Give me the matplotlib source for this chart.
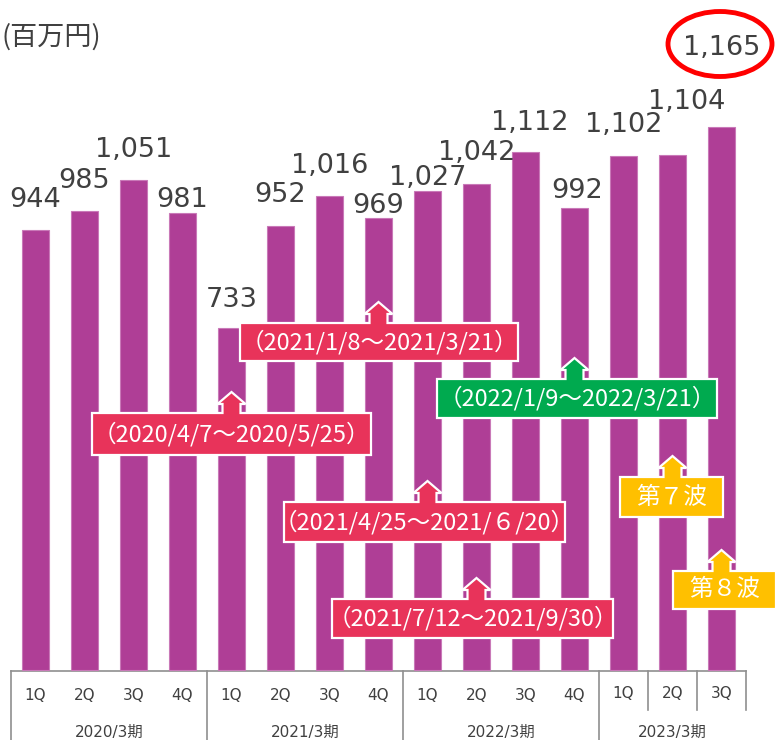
import matplotlib.pyplot as plt
from matplotlib.patches import Polygon, Ellipse

plt.rcParams['font.family'] = ['DejaVu Sans', 'Noto Sans CJK JP']

# data
quarters = ['1Q', '2Q', '3Q', '4Q'] * 3 + ['1Q', '2Q', '3Q']
years = ['2020/3期', '2021/3期', '2022/3期', '2023/3期']
year_bars = [4, 4, 4, 3]
sales = [944, 985, 1051, 981, 733, 952, 1016, 969, 1027, 1042, 1112, 992, 1102, 1104, 1165]

note_texts = ['（2020/4/7～2020/5/25）', '（2021/1/8～2021/3/21）',
              '（2021/4/25～2021/６/20）', '（2021/7/12～2021/9/30）',
              '（2022/1/9～2022/3/21）', '第７波', '第８波']
note_bars = [4, 7, 8, 9, 11, 13, 14]

# layout (pixels)
X0, XSTEP, Y0, YSCALE = 35.5, 49.0, 670.0, 0.4661
label_dx = [0, 0, 0, 0, 0, 0, 0, 0, 0, 0, 4, 3, 0, 14, 0]
label_dy = [23, 23, 23, 6, 21, 24, 23, 5, 6, 24, 22, 10, 24, 46, 72]
boxes = [(92, 371, 413, 455), (240, 518, 323, 361), (284, 565, 502, 542),
         (332, 613, 599, 638), (437, 717, 379, 418), (620, 723, 477, 517),
         (673, 776, 571, 609)]
RED, GREEN, GOLD = '#E8335A', '#00AA4F', '#FFC000'
box_colors = [RED, RED, RED, RED, GREEN, GOLD, GOLD]
PURPLE = '#AF3E96'
GREY_TXT = '#404040'
LINE = '#8F8F8F'


def px_x(p):
    return (p - X0) / XSTEP


def px_y(p):
    return (Y0 - p) / YSCALE


fig = plt.figure(figsize=(7.75, 7.40), dpi=100)
ax = fig.add_axes([0, 0, 1, 1])
ax.set_xlim(px_x(0), px_x(775))
ax.set_ylim(px_y(740), px_y(0))
ax.axis('off')

xs = list(range(len(sales)))
ax.bar(xs, sales, width=27 / XSTEP, color=PURPLE, edgecolor='#C979B8', linewidth=0.8, zorder=2)

for i, v in enumerate(sales):
    ax.annotate(f'{v:,}', (i, v), xytext=(label_dx[i], label_dy[i]), textcoords='offset pixels',
                ha='center', va='baseline', fontsize=19.5, color=GREY_TXT, zorder=5)

# circle around the latest value
ax.add_patch(Ellipse((px_x(720), px_y(44)), 104 / XSTEP, 65 / YSCALE, fill=False,
                     edgecolor='#FF0000', linewidth=3.5, zorder=6))

ax.text(px_x(1), px_y(37), '(百万円)', fontsize=19.5, color=GREY_TXT, ha='left', va='center',
        family=['Noto Sans CJK JP', 'DejaVu Sans'])

# category table below the bars
ax.plot([-0.5, len(sales) - 0.5], [px_y(671)] * 2, color=LINE, lw=1.2, zorder=1)
start = 0
for name, n in zip(years, year_bars):
    ax.plot([start - 0.5] * 2, [px_y(671), px_y(742)], color=LINE, lw=1.2)
    ax.text(start + (n - 1) / 2, px_y(732), name, ha='center', va='center', fontsize=11, color=GREY_TXT)
    start += n
ax.plot([start - 0.5] * 2, [px_y(671), px_y(710)], color=LINE, lw=1.2)
for k in range(12, len(sales) - 1):
    ax.plot([k + 0.5] * 2, [px_y(671), px_y(710)], color=LINE, lw=1.2)
for i, q in enumerate(quarters):
    ax.text(i, px_y(695 if i < 12 else 693), q, ha='center', va='center', fontsize=11, color=GREY_TXT)

# callout boxes with arrows
hw, sw = 14 / XSTEP, 9 / XSTEP
for text, b, (l, r, t, bt), c in zip(note_texts, note_bars, boxes, box_colors):
    L, R, T, B = px_x(l), px_x(r), px_y(t), px_y(bt)
    neck, tip = px_y(t - 9), px_y(t - 21)
    verts = [(L, B), (R, B), (R, T), (b + sw, T), (b + sw, neck), (b + hw, neck), (b, tip),
             (b - hw, neck), (b - sw, neck), (b - sw, T), (L, T)]
    ax.add_patch(Polygon(verts, closed=True, facecolor=c, edgecolor='white', linewidth=1.6, zorder=7))
    ax.text((L + R) / 2, (T + B) / 2, text, ha='center', va='center', fontsize=17, color='white',
            family=['Noto Sans CJK JP', 'DejaVu Sans'], zorder=8)

fig.savefig('out.png', dpi=100)
